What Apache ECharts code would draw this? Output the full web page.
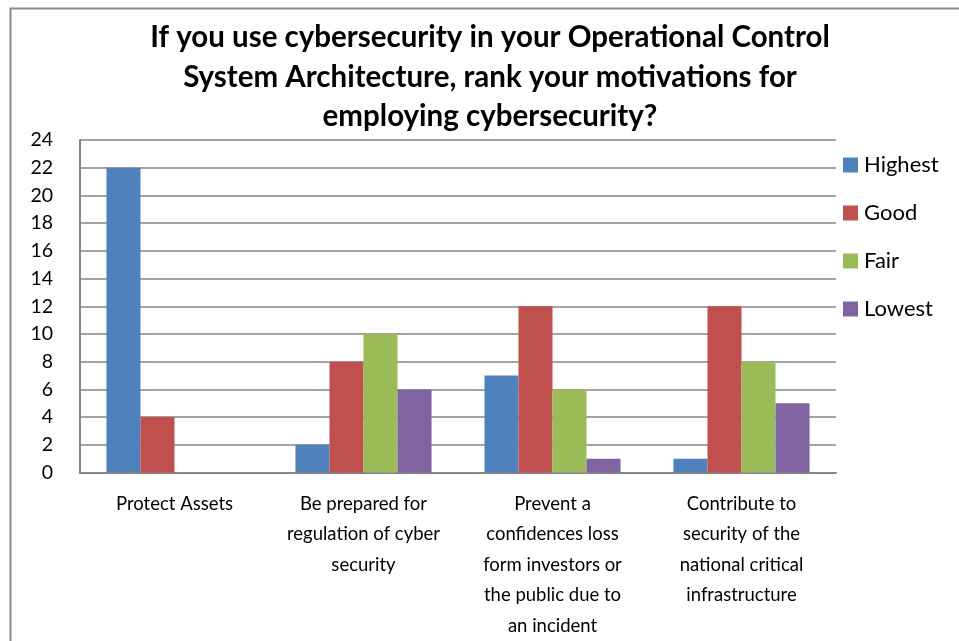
<!DOCTYPE html>
<html>
<head>
<meta charset="utf-8">
<script src="https://cdn.jsdelivr.net/npm/echarts@6/dist/echarts.min.js"></script>
<style>
  html, body { margin: 0; padding: 0; background: #fff; }
  #chart { width: 959px; height: 641px; }
</style>
</head>
<body>
<div id="chart"></div>
<script>
// Motivation categories (line breaks follow the wrapped axis labels)
const categories = [
  'Protect Assets',
  'Be prepared for\nregulation of cyber\nsecurity',
  'Prevent a\nconfidences loss\nform investors or\nthe public due to\nan incident',
  'Contribute to\nsecurity of the\nnational critical\ninfrastructure'
];

// Number of responses per rank
const highest = [22, 2, 7, 1];
const good    = [4, 8, 12, 12];
const fair    = [0, 10, 6, 8];
const lowest  = [0, 6, 1, 5];

const seriesNames = ['Highest', 'Good', 'Fair', 'Lowest'];
const seriesColors = ['#4F81BD', '#C0504D', '#9BBB59', '#8064A2'];
const seriesData = [highest, good, fair, lowest];

const titleText = 'If you use cybersecurity in your Operational Control\nSystem Architecture, rank your motivations for\nemploying cybersecurity?';

const bodyFont = 'Lato, "Open Sans", sans-serif';

const chart = echarts.init(document.getElementById('chart'), null, { renderer: 'canvas' });

chart.setOption({
  animation: false,
  backgroundColor: '#ffffff',
  graphic: [{
    type: 'rect',
    shape: { x: 10.5, y: 8.5, width: 1000, height: 700 },
    style: { fill: 'none', stroke: '#8c8c8c', lineWidth: 2 },
    silent: true,
    z: -1
  }],
  title: {
    text: titleText,
    left: 490,
    top: 18,
    textAlign: 'center',
    padding: 0,
    textStyle: {
      fontFamily: bodyFont,
      fontWeight: 'bold',
      fontSize: 29.5,
      lineHeight: 39.5,
      color: '#000'
    }
  },
  legend: {
    orient: 'vertical',
    left: 843,
    top: 154,
    padding: 0,
    itemWidth: 15,
    itemHeight: 15,
    itemGap: 26,
    icon: 'rect',
    textStyle: { fontFamily: bodyFont, fontSize: 22, lineHeight: 22, color: '#000', padding: [0, 0, 0, 1] },
    data: seriesNames
  },
  grid: { left: 80, top: 140, right: 123, bottom: 164, containLabel: false },
  xAxis: {
    type: 'category',
    data: categories,
    axisLine: { show: true, lineStyle: { color: '#868686', width: 2 } },
    axisTick: { show: false },
    axisLabel: {
      interval: 0,
      margin: 16,
      fontFamily: bodyFont,
      fontSize: 18.5,
      lineHeight: 30.5,
      color: '#000',
      align: 'center'
    }
  },
  yAxis: {
    type: 'value',
    min: 0,
    max: 24,
    interval: 2,
    axisLine: { show: true, lineStyle: { color: '#868686', width: 2 } },
    axisTick: { show: false },
    splitLine: { show: true, lineStyle: { color: '#868686', width: 1.5 } },
    axisLabel: {
      margin: 27,
      fontFamily: bodyFont,
      fontSize: 19.5,
      color: '#000'
    }
  },
  series: seriesNames.map((name, i) => ({
    name: name,
    type: 'bar',
    data: seriesData[i],
    barGap: '0%',
    barCategoryGap: '28%',
    itemStyle: { color: seriesColors[i] }
  }))
});
</script>
</body>
</html>
